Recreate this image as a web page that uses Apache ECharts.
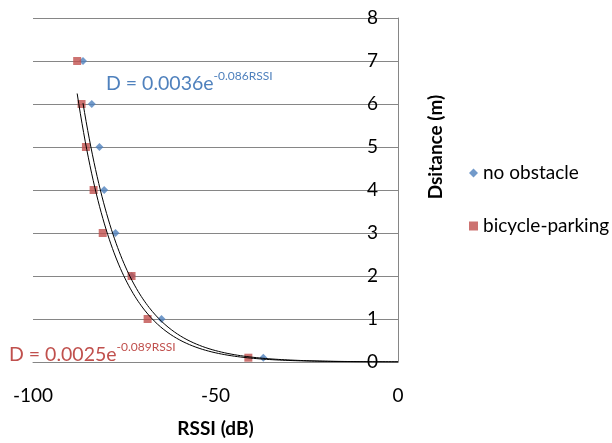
<!DOCTYPE html>
<html>
<head>
<meta charset="utf-8">
<script src="https://cdn.jsdelivr.net/npm/echarts@6/dist/echarts.min.js"></script>
<style>html,body{margin:0;padding:0;background:#fff;}#c{width:612px;height:443px;}</style>
</head>
<body>
<div id="c"></div>
<script>
// Data
var distances = [7, 6, 5, 4, 3, 2, 1, 0.1];
var rssiNoObstacle = [-86.3, -83.9, -81.8, -80.5, -77.4, -73.0, -64.8, -36.9];
var rssiBicycle = [-87.9, -86.7, -85.5, -83.4, -80.9, -73.0, -68.6, -41.0];
// Exponential trend coefficients shown on the chart: D = a * e^(b * RSSI)
var fitNoObstacle = [0.0036, -0.086];
var fitBicycle = [0.0025, -0.089];
var xTicks = [-100, -50, 0];
var yTicks = [0, 8];

var FONT = 'Lato';
var BLUE = '#4F81BD', RED = '#C0504D', GRID = '#868686';

function pairs(xs, ys) { return xs.map(function (x, i) { return [x, ys[i]]; }); }
function trend(fit, xs) {
  var x0 = Math.min.apply(null, xs), out = [], n = 200;
  for (var i = 0; i <= n; i++) {
    var x = x0 + (0 - x0) * i / n;
    out.push([x, fit[0] * Math.exp(fit[1] * x)]);
  }
  return out;
}

var chart = echarts.init(document.getElementById('c'));
chart.setOption({
  animation: false,
  textStyle: { fontFamily: FONT },
  grid: { left: 33, right: 214, top: 18, bottom: 78, containLabel: false },
  legend: {
    orient: 'vertical', left: 464, top: 158,
    itemWidth: 9, itemHeight: 9, itemGap: 33,
    data: [{ name: 'no obstacle', icon: 'diamond' }, { name: 'bicycle-parking', icon: 'rect' }],
    textStyle: { fontFamily: FONT, fontSize: 19, color: '#000', lineHeight: 20 }
  },
  xAxis: {
    type: 'value', min: xTicks[0], max: xTicks[xTicks.length - 1], interval: 50,
    name: 'RSSI (dB)', nameLocation: 'middle', nameGap: 57,
    nameTextStyle: { fontFamily: FONT, fontSize: 19, fontWeight: 'bold', color: '#000' },
    axisLine: { show: true, onZero: true, lineStyle: { color: GRID, width: 1 } },
    axisTick: { show: false },
    splitLine: { show: false },
    axisLabel: { fontFamily: FONT, fontSize: 19, color: '#000', margin: 24 }
  },
  yAxis: {
    type: 'value', position: 'right', min: yTicks[0], max: yTicks[1], interval: 1,
    name: 'Dsitance (m)', nameLocation: 'middle', nameRotate: 90, nameGap: 28,
    nameTextStyle: { fontFamily: FONT, fontSize: 19, fontWeight: 'bold', color: '#000', padding: [0, 0, 0, 86] },
    axisLine: { show: true, lineStyle: { color: GRID, width: 1 } },
    axisTick: { show: false },
    splitLine: { show: true, lineStyle: { color: GRID, width: 1 } },
    axisLabel: { inside: true, margin: 20, fontFamily: FONT, fontSize: 19, color: '#000' }
  },
  series: [
    { name: 'no obstacle', type: 'scatter', symbol: 'diamond', symbolSize: 8,
      itemStyle: { color: BLUE }, data: pairs(rssiNoObstacle, distances), z: 3 },
    { name: 'bicycle-parking', type: 'scatter', symbol: 'rect', symbolSize: 8,
      itemStyle: { color: RED }, data: pairs(rssiBicycle, distances), z: 4 },
    { name: 'trend no obstacle', type: 'line', showSymbol: false, symbol: 'none',
      lineStyle: { color: '#000', width: 1 }, data: trend(fitNoObstacle, rssiNoObstacle), z: 5 },
    { name: 'trend bicycle', type: 'line', showSymbol: false, symbol: 'none',
      lineStyle: { color: '#000', width: 1 }, data: trend(fitBicycle, rssiBicycle), z: 5 }
  ],
  graphic: [
    { type: 'text', left: 106, top: 70, z: 10,
      style: { rich: {
        a: { fontFamily: FONT, fontSize: 19.5, fill: BLUE, lineHeight: 24, verticalAlign: 'bottom' },
        b: { fontFamily: FONT, fontSize: 12, fill: BLUE, lineHeight: 24, verticalAlign: 'top' } },
        text: '{a|D = ' + fitNoObstacle[0] + 'e}{b|' + fitNoObstacle[1] + 'RSSI}' } },
    { type: 'text', left: 9, top: 341, z: 10,
      style: { rich: {
        a: { fontFamily: FONT, fontSize: 19.5, fill: RED, lineHeight: 24, verticalAlign: 'bottom' },
        b: { fontFamily: FONT, fontSize: 12, fill: RED, lineHeight: 24, verticalAlign: 'top' } },
        text: '{a|D = ' + fitBicycle[0] + 'e}{b|' + fitBicycle[1] + 'RSSI}' } }
  ]
});
</script>
</body>
</html>
